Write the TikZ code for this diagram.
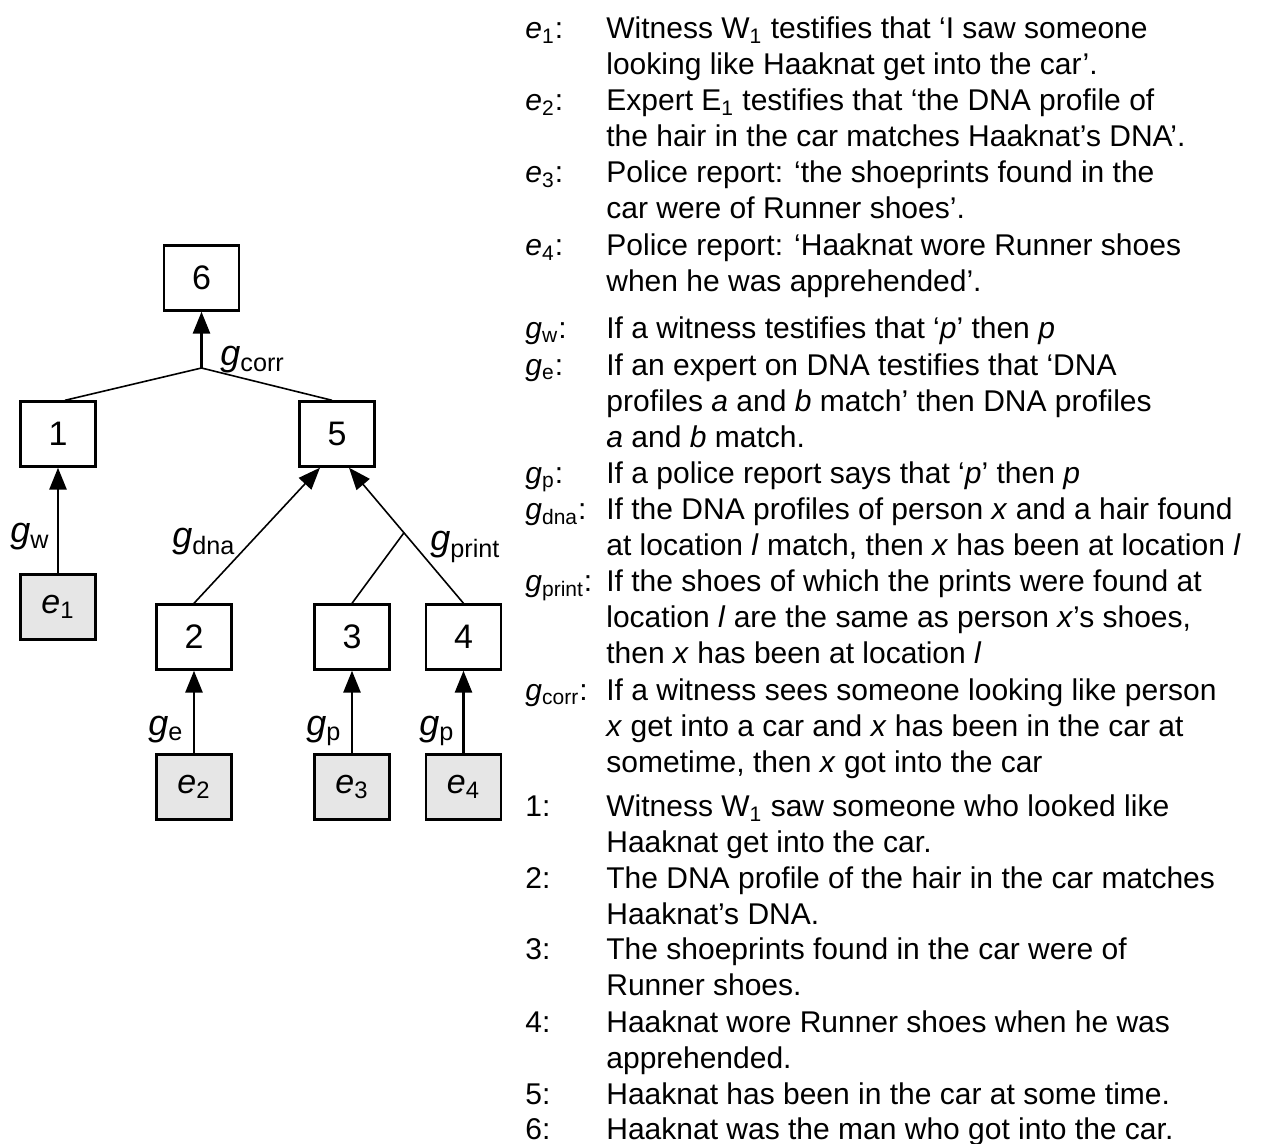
\documentclass[tikz,border=0pt]{standalone}
\usepackage{fontspec}
\setmainfont{Liberation Sans}
\usetikzlibrary{arrows.meta,calc}
\definecolor{evidbg}{HTML}{E6E6E6}
\tikzset{
  box/.style={draw, line width=1.2pt, minimum width=37.5pt, minimum height=32.5pt, inner sep=0pt, font=\fontsize{17}{20}\selectfont},
  ev/.style={box, fill=evidbg},
  arr/.style={-{Triangle[length=11pt,width=8.5pt]}, line width=1.4pt},
  ln/.style={line width=0.8pt},
  tarr/.style={ln, -{Triangle[length=11pt,width=8.5pt]}},
  lbl/.style={anchor=base west, inner sep=0pt, font=\fontsize{18}{21}\selectfont},
  key/.style={anchor=north west, inner sep=0pt, font=\fontsize{15}{18}\selectfont, execute at begin node=\strut},
  txt/.style={anchor=north west, inner sep=0pt, align=left, font=\fontsize{15}{18}\selectfont},
}
\newcommand{\grule}[1]{\textit{g}\textsubscript{#1}}
\newcommand{\evid}[1]{\textit{e}\textsubscript{#1}}

\begin{document}
\begin{tikzpicture}[x=0.5pt, y=-0.5pt]
    \useasboundingbox (0,0) rectangle (1265,1144);
    % argument tree
    \node[box] (n6) at (201.5,278) {6};
    \node[box] (n1) at (58,434) {1};
    \node[box] (n5) at (337,434) {5};
    \node[ev] (e1) at (58,607) {\evid{1}};
    \node[box] (n2) at (194,637) {2};
    \node[box] (n3) at (352,637) {3};
    \node[box] (n4) at (463.5,637) {4};
    \node[ev] (e2) at (194,787) {\evid{2}};
    \node[ev] (e3) at (352,787) {\evid{3}};
    \node[ev] (e4) at (463.5,787) {\evid{4}};
    \coordinate (jcorr) at (201.5,368);
    \coordinate (jprint) at ($(n4.north)!0.52!([xshift=6pt]n5.south)$);
    \draw[ln] ([xshift=3.5pt]n1.north) -- (jcorr) -- ([xshift=-2.5pt]n5.north);
    \draw[arr] (jcorr) -- (n6);
    \draw[arr] (e1) -- (n1);
    \draw[tarr] (n2.north) -- ([xshift=-8.5pt]n5.south);
    \draw[tarr] (n4.north) -- ([xshift=6pt]n5.south);
    \draw[ln] (n3.north) -- (jprint);
    \draw[arr] (e2) -- (n2); \draw[arr] (e3) -- (n3); \draw[arr] (e4) -- (n4);
    \node[lbl] (lcorr) at (220,366) {\grule{corr}};
    \node[lbl] (lw) at (10,543) {\grule{w}};
    \node[lbl] (ldna) at (172,548) {\grule{dna}};
    \node[lbl] (lprint) at (430,551) {\grule{print}};
    \node[lbl] (le) at (148,735) {\grule{e}};
    \node[lbl] (lp3) at (306,735) {\grule{p}};
    \node[lbl] (lp4) at (419,735) {\grule{p}};
    % key
    \node[key] (ke1) at (525,13) {\evid{1}:};
    \node[txt] (te1) at (606,13) {\strut Witness W\textsubscript{1} testifies that ‘I saw someone\\looking like Haaknat get into the car’.};
    \node[key] (ke2) at (525,85) {\evid{2}:};
    \node[txt] (te2) at (606,85) {\strut Expert E\textsubscript{1} testifies that ‘the DNA profile of\\the hair in the car matches Haaknat’s DNA’.};
    \node[key] (ke3) at (525,157) {\evid{3}:};
    \node[txt] (te3) at (606,157) {\strut Police report: ‘the shoeprints found in the\\car were of Runner shoes’.};
    \node[key] (ke4) at (525,230) {\evid{4}:};
    \node[txt] (te4) at (606,230) {\strut Police report: ‘Haaknat wore Runner shoes\\when he was apprehended’.};
    \node[key] (kgw) at (525,313) {\grule{w}:};
    \node[txt] (tgw) at (606,313) {\strut If a witness testifies that ‘\textit{p}’ then \textit{p}};
    \node[key] (kge) at (525,350) {\grule{e}:};
    \node[txt] (tge) at (606,350) {\strut If an expert on DNA testifies that ‘DNA\\profiles \textit{a} and \textit{b} match’ then DNA profiles\\\textit{a} and \textit{b} match.};
    \node[key] (kgp) at (525,458) {\grule{p}:};
    \node[txt] (tgp) at (606,458) {\strut If a police report says that ‘\textit{p}’ then \textit{p}};
    \node[key] (kgdna) at (525,494) {\grule{dna}:};
    \node[txt] (tgdna) at (606,494) {\strut If the DNA profiles of person \textit{x} and a hair found\\at location \textit{l} match, then \textit{x} has been at location \textit{l}};
    \node[key] (kgprint) at (525,566) {\grule{print}:};
    \node[txt] (tgprint) at (606,566) {\strut If the shoes of which the prints were found at\\location \textit{l} are the same as person \textit{x}’s shoes,\\then \textit{x} has been at location \textit{l}};
    \node[key] (kgcorr) at (525,675) {\grule{corr}:};
    \node[txt] (tgcorr) at (606,675) {\strut If a witness sees someone looking like person\\\textit{x} get into a car and \textit{x} has been in the car at\\sometime, then \textit{x} got into the car};
    \node[key] (k1) at (525,791) {1:};
    \node[txt] (t1) at (606,791) {\strut Witness W\textsubscript{1} saw someone who looked like\\Haaknat get into the car.};
    \node[key] (k2) at (525,863) {2:};
    \node[txt] (t2) at (606,863) {\strut The DNA profile of the hair in the car matches\\Haaknat’s DNA.};
    \node[key] (k3) at (525,934) {3:};
    \node[txt] (t3) at (606,934) {\strut The shoeprints found in the car were of\\Runner shoes.};
    \node[key] (k4) at (525,1007) {4:};
    \node[txt] (t4) at (606,1007) {\strut Haaknat wore Runner shoes when he was\\apprehended.};
    \node[key] (k5) at (525,1079) {5:};
    \node[txt] (t5) at (606,1079) {\strut Haaknat has been in the car at some time.};
    \node[key] (k6) at (525,1114) {6:};
    \node[txt] (t6) at (606,1114) {\strut Haaknat was the man who got into the car.};
\end{tikzpicture}
\end{document}
